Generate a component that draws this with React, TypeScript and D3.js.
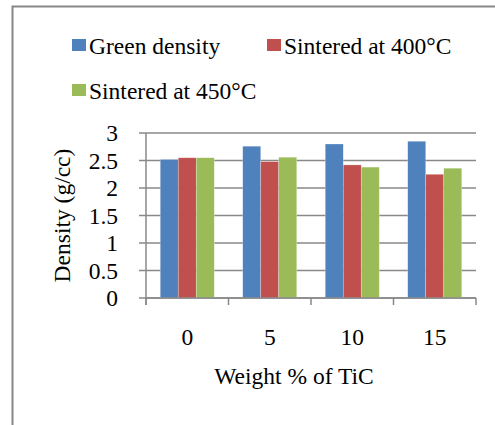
import React from "react";
import * as d3 from "d3";

const categories = ["0", "5", "10", "15"];
const seriesNames = ["Green density", "Sintered at 400°C", "Sintered at 450°C"];
const greenDensity = [2.52, 2.76, 2.8, 2.85];
const sintered400 = [2.55, 2.48, 2.42, 2.25];
const sintered450 = [2.55, 2.56, 2.38, 2.36];
const yTicks = [0, 0.5, 1, 1.5, 2, 2.5, 3];
const colors = ["#4F81BD", "#C0504D", "#9BBB59"];

const W = 495;
const H = 425;
const FONT = "'Liberation Serif', 'Times New Roman', serif";
const FS = 23.5;

export default function App() {
  const series = [greenDensity, sintered400, sintered450];
  const x = d3.scaleBand<string>().domain(categories).range([146, 476]).paddingInner(0).paddingOuter(0);
  const xs = d3
    .scaleBand<number>()
    .domain([0, 1, 2])
    .range([0, x.bandwidth()])
    .paddingInner(0)
    .paddingOuter(0.79);
  const y = d3.scaleLinear().domain([0, 3]).range([298, 133]);
  const grid = "#898989";
  const tickXs = categories.map((c) => x(c)!).concat([x.range()[1]]);

  return (
    <svg
      width={W}
      height={H}
      style={{ position: "absolute", left: 0, top: 0, background: "#fff" }}
      fontFamily={FONT}
    >
      <rect x={12.5} y={6.5} width={W + 20} height={H + 20} fill="#fff" stroke="#878787" strokeWidth={2} />

      {/* legend */}
      {[
        { i: 0, x: 72, y: 39 },
        { i: 1, x: 267, y: 39 },
        { i: 2, x: 72, y: 84 },
      ].map(({ i, x: lx, y: ly }) => (
        <g key={i}>
          <rect x={lx} y={ly} width={14} height={12} fill={colors[i]} />
          <text x={lx + 17} y={ly + 14.5} fontSize={FS} fill="#000">
            {seriesNames[i]}
          </text>
        </g>
      ))}

      {/* gridlines */}
      {yTicks.map((t) => (
        <line key={t} x1={139} x2={476} y1={y(t)} y2={y(t)} stroke={grid} strokeWidth={1.5} />
      ))}
      {/* y axis */}
      <line x1={146} x2={146} y1={y(3)} y2={305} stroke={grid} strokeWidth={1.5} />
      {/* category ticks */}
      {tickXs.map((tx, i) => (
        <line key={i} x1={tx} x2={tx} y1={298} y2={305} stroke={grid} strokeWidth={1.5} />
      ))}

      {/* bars */}
      {categories.map((c, ci) => (
        <g key={c}>
          {series.map((s, si) => (
            <rect
              key={si}
              x={x(c)! + xs(si)!}
              y={y(s[ci])}
              width={xs.bandwidth()}
              height={y(0) - y(s[ci])}
              fill={colors[si]}
              stroke="rgba(255,255,255,0.45)"
              strokeWidth={0.6}
            />
          ))}
        </g>
      ))}
      <line x1={146} x2={476} y1={298} y2={298} stroke={grid} strokeWidth={1.5} />

      {/* y tick labels */}
      {yTicks.map((t) => (
        <text key={t} x={118} y={y(t)} dy="0.35em" textAnchor="end" fontSize={FS} fill="#000">
          {t}
        </text>
      ))}

      {/* x tick labels */}
      {categories.map((c) => (
        <text key={c} x={x(c)! + x.bandwidth() / 2} y={345} textAnchor="middle" fontSize={FS} fill="#000">
          {c}
        </text>
      ))}

      <text x={294} y={384} textAnchor="middle" fontSize={FS} fill="#000">
        Weight % of TiC
      </text>
      <text
        transform={`translate(70,${(y(0) + y(3)) / 2}) rotate(-90)`}
        textAnchor="middle"
        fontSize={FS}
        fill="#000"
      >
        Density (g/cc)
      </text>
    </svg>
  );
}
